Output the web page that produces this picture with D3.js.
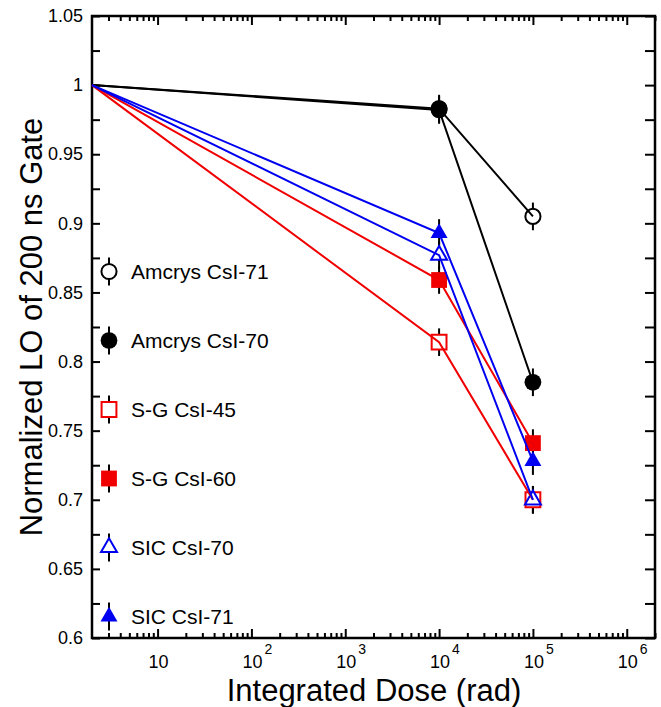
<!DOCTYPE html>
<html>
<head>
<meta charset="utf-8">
<script src="https://cdn.jsdelivr.net/npm/d3@7"></script>
<style>
  body { margin: 0; background: #ffffff; }
  text { font-family: "Liberation Sans", Arial, sans-serif; fill: #000; }
</style>
</head>
<body>
<div id="chart"></div>
<script>
// Data
const doses = [2, 1e4, 1e5];
const seriesNames = ['Amcrys CsI-71', 'Amcrys CsI-70', 'S-G CsI-45', 'S-G CsI-60', 'SIC CsI-70', 'SIC CsI-71'];
const amcrys71 = [1, 0.983, 0.905];
const amcrys70 = [1, 0.982, 0.785];
const sg45 = [1, 0.814, 0.700];
const sg60 = [1, 0.859, 0.741];
const sic70 = [1, 0.877, 0.700];
const sic71 = [1, 0.893, 0.728];
const errorHalf = 0.01;
const yTickSteps = d3.range(24, 43); // multiples of 0.025 from 0.6 to 1.05
const xMajorTicks = [10, 1e2, 1e3, 1e4, 1e5, 1e6];

const width = 661, height = 707;
const plotLeft = 92, plotRight = 655, plotTop = 16, plotBottom = 638;

const series = [
  { name: seriesNames[0], values: amcrys71, color: '#000000', symbol: d3.symbolCircle, filled: false },
  { name: seriesNames[1], values: amcrys70, color: '#000000', symbol: d3.symbolCircle, filled: true },
  { name: seriesNames[2], values: sg45, color: '#f00000', symbol: d3.symbolSquare, filled: false },
  { name: seriesNames[3], values: sg60, color: '#f00000', symbol: d3.symbolSquare, filled: true },
  { name: seriesNames[4], values: sic70, color: '#0000f0', symbol: d3.symbolTriangle, filled: false },
  { name: seriesNames[5], values: sic71, color: '#0000f0', symbol: d3.symbolTriangle, filled: true }
];

const x = d3.scaleLog().domain([2, 2e6]).range([plotLeft, plotRight]);
const y = d3.scaleLinear().domain([0.6, 1.05]).range([plotBottom, plotTop]);

const svg = d3.select('#chart').append('svg')
  .attr('width', width)
  .attr('height', height)
  .style('background', '#ffffff');

// symbol sizes (area) per shape
function symbolSize(sym, filled) {
  if (sym === d3.symbolCircle) return filled ? 220 : 180;
  if (sym === d3.symbolSquare) return filled ? 250 : 220;
  return filled ? 125 : 110;
}

function drawMarker(g, s, cx, cy) {
  g.append('path')
    .attr('d', d3.symbol().type(s.symbol).size(symbolSize(s.symbol, s.filled))())
    .attr('transform', `translate(${cx},${cy})`)
    .attr('fill', s.filled ? s.color : '#ffffff')
    .attr('stroke', s.color)
    .attr('stroke-width', s.filled ? 0 : 2);
}

// ---- axes ----
const yTickVals = yTickSteps.map(i => +(i * 0.025).toFixed(3));
const yFmt = d => (Math.round(d * 1000) % 50 === 0 ? d3.format('~g')(d) : '');

const minorX = x.ticks().filter(v => !xMajorTicks.includes(v) && v > 2);

function styleAxis(g) {
  g.select('.domain').remove();
  g.selectAll('line').attr('stroke', '#000').attr('stroke-width', 2);
  g.selectAll('text').attr('font-size', 18).attr('fill', '#000')
    .style('font-family', '"Liberation Sans", Arial, sans-serif');
}

svg.append('g')
  .attr('transform', `translate(${plotLeft},0)`)
  .call(d3.axisLeft(y).tickValues(yTickVals).tickSizeInner(-8).tickSizeOuter(0).tickPadding(9).tickFormat(yFmt))
  .call(styleAxis);

svg.append('g')
  .attr('transform', `translate(${plotRight},0)`)
  .call(d3.axisRight(y).tickValues(yTickVals).tickSizeInner(-10).tickSizeOuter(0).tickFormat(''))
  .call(styleAxis);

[[d3.axisBottom, plotBottom], [d3.axisTop, plotTop]].forEach(([axisFn, pos]) => {
  svg.append('g')
    .attr('transform', `translate(0,${pos})`)
    .call(axisFn(x).tickValues(xMajorTicks).tickSizeInner(-9).tickSizeOuter(0).tickFormat(''))
    .call(styleAxis);
  svg.append('g')
    .attr('transform', `translate(0,${pos})`)
    .call(axisFn(x).tickValues(minorX).tickSizeInner(-5).tickSizeOuter(0).tickFormat(''))
    .call(styleAxis);
});

// x tick labels with superscript exponents (one text per tick)
const xLabels = svg.append('g');
xMajorTicks.forEach(v => {
  const p = Math.round(Math.log10(v));
  const t = xLabels.append('text')
    .attr('y', 668)
    .attr('font-size', 18);
  if (p > 1) {
    t.attr('x', x(v) - 9).attr('text-anchor', 'start');
    t.append('tspan').text('10');
    t.append('tspan')
      .attr('dx', 2)
      .attr('dy', -14)
      .attr('font-size', 14)
      .text(p);
  } else {
    t.attr('x', x(v) + 1).attr('text-anchor', 'middle').text('10');
  }
});

// frame
svg.append('rect')
  .attr('x', plotLeft).attr('y', plotTop)
  .attr('width', plotRight - plotLeft).attr('height', plotBottom - plotTop)
  .attr('fill', 'none').attr('stroke', '#000').attr('stroke-width', 2.5);

// ---- data ----
const plot = svg.append('g');

// error bars
series.forEach(s => {
  doses.forEach((d, i) => {
    if (i === 0) return;
    plot.append('line')
      .attr('x1', x(d)).attr('x2', x(d))
      .attr('y1', y(s.values[i] - errorHalf)).attr('y2', y(s.values[i] + errorHalf))
      .attr('stroke', '#000').attr('stroke-width', 2);
  });
});

// markers
series.forEach(s => {
  doses.forEach((d, i) => {
    if (i === 0) return;
    drawMarker(plot, s, x(d), y(s.values[i]));
  });
});

// lines
const line = d3.line().x((d, i) => x(doses[i])).y(d => y(d));
series.forEach(s => {
  plot.append('path')
    .datum(s.values)
    .attr('d', line)
    .attr('fill', 'none')
    .attr('stroke', s.color)
    .attr('stroke-width', 2);
});

// ---- legend ----
const legend = svg.append('g');
series.forEach((s, i) => {
  const cy = 271.5 + i * 69;
  legend.append('line')
    .attr('x1', 109).attr('x2', 109)
    .attr('y1', cy - 14).attr('y2', cy + 14)
    .attr('stroke', '#000').attr('stroke-width', 2);
  drawMarker(legend, s, 109, cy);
  legend.append('text')
    .attr('x', 131)
    .attr('y', cy)
    .attr('dy', '0.35em')
    .attr('font-size', 21)
    .text(s.name);
});

// ---- titles ----
svg.append('text')
  .attr('x', 374)
  .attr('y', 700.5)
  .attr('text-anchor', 'middle')
  .attr('font-size', 31)
  .text('Integrated Dose (rad)');

svg.append('text')
  .attr('transform', 'translate(42,327) rotate(-90)')
  .attr('text-anchor', 'middle')
  .attr('font-size', 31)
  .text('Normalized LO of 200 ns Gate');
</script>
</body>
</html>
